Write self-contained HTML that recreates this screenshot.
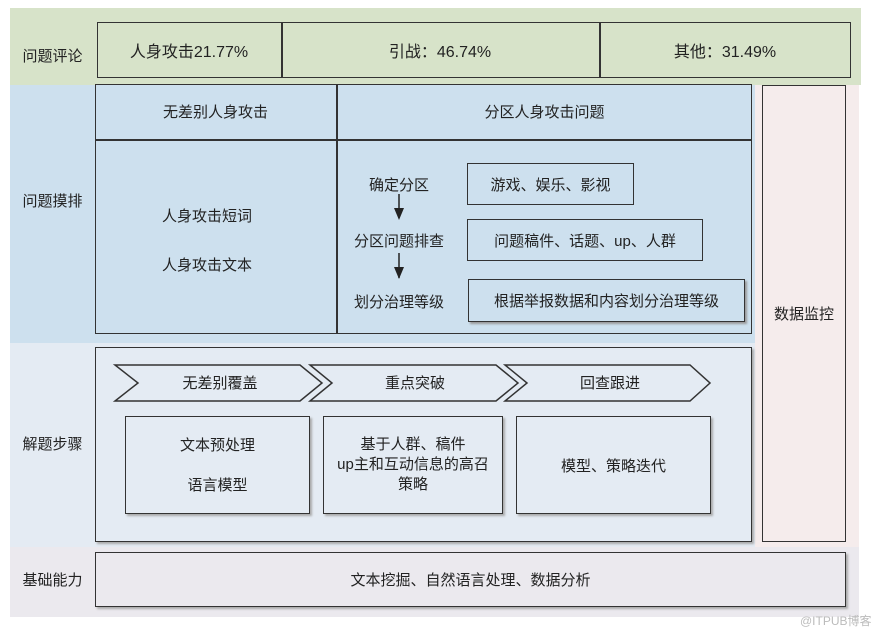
<!DOCTYPE html>
<html><head><meta charset="utf-8"><style>
body{margin:0;width:889px;height:635px;background:#fff;position:relative;overflow:hidden;font-family:"Liberation Sans","Noto Sans CJK SC",sans-serif;color:#222;font-size:15px}
div{position:absolute;box-sizing:border-box}
.b{border:1.5px solid #333}
.c{display:flex;align-items:center;justify-content:center;text-align:center}
.lab{left:10px;width:85px;font-size:15px}
</style></head><body>
<div style="left:10px;top:8px;width:851px;height:77px;background:#d7e3c9"></div>
<div style="left:10px;top:85px;width:745px;height:258px;background:#cde0ee"></div>
<div style="left:755px;top:85px;width:104px;height:462px;background:#f5ecec"></div>
<div style="left:10px;top:343px;width:745px;height:204px;background:#e4ebf3"></div>
<div style="left:10px;top:547px;width:849px;height:70px;background:#ebe9ee"></div>

<div class="lab c" style="top:40px;height:30px">问题评论</div>
<div class="lab c" style="top:185px;height:30px">问题摸排</div>
<div class="lab c" style="top:428px;height:30px">解题步骤</div>
<div class="lab c" style="top:564px;height:30px">基础能力</div>

<div class="b" style="left:97px;top:22px;width:754px;height:56px;background:#d7e3c9"></div>
<div class="c" style="left:97px;top:22px;width:184px;height:56px;font-size:16px">人身攻击21.77%</div>
<div style="left:281px;top:22px;width:1.5px;height:56px;background:#333"></div>
<div class="c" style="left:281px;top:22px;width:318px;height:56px;font-size:16px">引战：46.74%</div>
<div style="left:599px;top:22px;width:1.5px;height:56px;background:#333"></div>
<div class="c" style="left:599px;top:22px;width:252px;height:56px;font-size:16px">其他：31.49%</div>

<div class="b" style="left:95px;top:84px;width:657px;height:250px"></div>
<div style="left:95px;top:139px;width:657px;height:1.5px;background:#333"></div>
<div style="left:336px;top:84px;width:1.5px;height:250px;background:#333"></div>
<div class="c" style="left:95px;top:84px;width:241px;height:55px">无差别人身攻击</div>
<div class="c" style="left:337px;top:84px;width:415px;height:55px">分区人身攻击问题</div>
<div class="c" style="left:95px;top:205px;width:224px;height:20px">人身攻击短词</div>
<div class="c" style="left:95px;top:254px;width:224px;height:20px">人身攻击文本</div>
<div class="c" style="left:340px;top:174px;width:118px;height:20px">确定分区</div>
<div class="c" style="left:340px;top:230px;width:118px;height:20px">分区问题排查</div>
<div class="c" style="left:340px;top:291px;width:118px;height:20px">划分治理等级</div>
<svg style="position:absolute;left:390px;top:190px" width="20" height="100">
<line x1="9" y1="4" x2="9" y2="28" stroke="#222" stroke-width="1.5"/><path d="M4,18 L14,18 L9,30 Z" fill="#222"/>
<line x1="9" y1="63" x2="9" y2="88" stroke="#222" stroke-width="1.5"/><path d="M4,77 L14,77 L9,89 Z" fill="#222"/>
</svg>
<div class="b c" style="left:467px;top:163px;width:167px;height:42px">游戏、娱乐、影视</div>
<div class="b c" style="left:467px;top:219px;width:236px;height:42px">问题稿件、话题、up、人群</div>
<div class="b c" style="left:468px;top:279px;width:277px;height:43px;box-shadow:2px 2px 2px #999">根据举报数据和内容划分治理等级</div>

<div class="b c" style="left:762px;top:85px;width:84px;height:457px">数据监控</div>

<div class="b" style="left:95px;top:347px;width:657px;height:195px;box-shadow:2px 2px 2px #aaa"></div>
<svg style="position:absolute;left:110px;top:360px" width="610" height="46">
<g fill="#e4ebf3" stroke="#333" stroke-width="1.5">
<path d="M5,5 L190,5 L212,23 L190,41 L5,41 L28,23 Z"/>
<path d="M200,5 L386,5 L408,23 L386,41 L200,41 L222,23 Z"/>
<path d="M395,5 L580,5 L600,23 L580,41 L395,41 L417,23 Z"/>
</g>
<g font-size="15" fill="#222" text-anchor="middle" font-family="Liberation Sans,Noto Sans CJK SC,sans-serif">
<text x="110" y="28">无差别覆盖</text><text x="305" y="28">重点突破</text><text x="500" y="28">回查跟进</text></g>
</svg>
<div class="b" style="left:125px;top:416px;width:185px;height:98px;box-shadow:2px 2px 2px #aaa"></div>
<div class="c" style="left:125px;top:434px;width:185px;height:20px">文本预处理</div>
<div class="c" style="left:125px;top:474px;width:185px;height:20px">语言模型</div>
<div class="b c" style="left:323px;top:416px;width:180px;height:98px;line-height:20px;box-shadow:2px 2px 2px #aaa">基于人群、稿件<br>up主和互动信息的高召<br>策略</div>
<div class="b c" style="left:516px;top:416px;width:195px;height:98px;box-shadow:2px 2px 2px #aaa">模型、策略迭代</div>

<div class="b c" style="left:95px;top:552px;width:751px;height:55px;box-shadow:2px 2px 2px #aaa">文本挖掘、自然语言处理、数据分析</div>
<div style="left:800px;top:612px;font-size:12px;color:#bbb">@ITPUB博客</div>
</body></html>
